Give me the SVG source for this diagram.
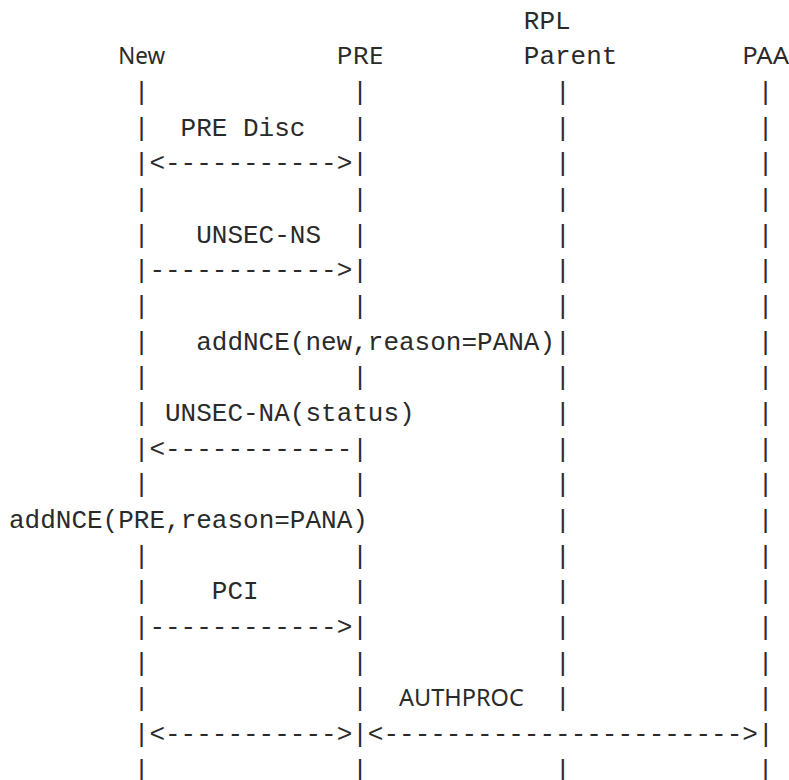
<svg xmlns="http://www.w3.org/2000/svg" width="789" height="780" viewBox="0 0 789 780">
<style>
text{fill:#2a2a2a}
.m{font-family:"Liberation Mono","DejaVu Sans Mono",monospace;font-size:26px;white-space:pre}
.s{font-family:"Noto Sans","DejaVu Sans",sans-serif;font-size:24px}
</style>
<rect width="789" height="780" fill="#ffffff"/>
<g id="node-new">
<text class="s" x="118.2" y="64.2" textLength="46.8" lengthAdjust="spacingAndGlyphs">New</text>
<text class="m"><tspan x="133.8" y="99.9">|</tspan><tspan x="133.8" y="135.5">|</tspan><tspan x="133.8" y="206.9">|</tspan><tspan x="133.8" y="242.6">|</tspan><tspan x="133.8" y="313.9">|</tspan><tspan x="133.8" y="349.6">|</tspan><tspan x="133.8" y="385.3">|</tspan><tspan x="133.8" y="421">|</tspan><tspan x="133.8" y="492.3">|</tspan><tspan x="133.8" y="563.7">|</tspan><tspan x="133.8" y="599.4">|</tspan><tspan x="133.8" y="670.7">|</tspan><tspan x="133.8" y="706.4">|</tspan><tspan x="133.8" y="777.8">|</tspan></text>
</g>
<g id="node-pre">
<text class="s" x="336.6" y="64.2" textLength="46.8" lengthAdjust="spacingAndGlyphs">PRE</text>
<text class="m"><tspan x="352.2" y="99.9">|</tspan><tspan x="352.2" y="135.5">|</tspan><tspan x="352.2" y="206.9">|</tspan><tspan x="352.2" y="242.6">|</tspan><tspan x="352.2" y="313.9">|</tspan><tspan x="352.2" y="385.3">|</tspan><tspan x="352.2" y="492.3">|</tspan><tspan x="352.2" y="563.7">|</tspan><tspan x="352.2" y="599.4">|</tspan><tspan x="352.2" y="670.7">|</tspan><tspan x="352.2" y="706.4">|</tspan><tspan x="352.2" y="777.8">|</tspan></text>
</g>
<g id="node-rpl-parent">
<text class="m" x="523.8" y="28.5">RPL</text>
<text class="m" x="523.8" y="64.2">Parent</text>
<text class="m"><tspan x="555" y="99.9">|</tspan><tspan x="555" y="135.5">|</tspan><tspan x="555" y="171.2">|</tspan><tspan x="555" y="206.9">|</tspan><tspan x="555" y="242.6">|</tspan><tspan x="555" y="278.3">|</tspan><tspan x="555" y="313.9">|</tspan><tspan x="555" y="349.6">|</tspan><tspan x="555" y="385.3">|</tspan><tspan x="555" y="421">|</tspan><tspan x="555" y="456.7">|</tspan><tspan x="555" y="492.3">|</tspan><tspan x="555" y="528">|</tspan><tspan x="555" y="563.7">|</tspan><tspan x="555" y="599.4">|</tspan><tspan x="555" y="635.1">|</tspan><tspan x="555" y="670.7">|</tspan><tspan x="555" y="706.4">|</tspan><tspan x="555" y="777.8">|</tspan></text>
</g>
<g id="node-paa">
<text class="s" x="742.2" y="64.2" textLength="46.8" lengthAdjust="spacingAndGlyphs">PAA</text>
<text class="m"><tspan x="757.8" y="99.9">|</tspan><tspan x="757.8" y="135.5">|</tspan><tspan x="757.8" y="171.2">|</tspan><tspan x="757.8" y="206.9">|</tspan><tspan x="757.8" y="242.6">|</tspan><tspan x="757.8" y="278.3">|</tspan><tspan x="757.8" y="313.9">|</tspan><tspan x="757.8" y="349.6">|</tspan><tspan x="757.8" y="385.3">|</tspan><tspan x="757.8" y="421">|</tspan><tspan x="757.8" y="456.7">|</tspan><tspan x="757.8" y="492.3">|</tspan><tspan x="757.8" y="528">|</tspan><tspan x="757.8" y="563.7">|</tspan><tspan x="757.8" y="599.4">|</tspan><tspan x="757.8" y="635.1">|</tspan><tspan x="757.8" y="670.7">|</tspan><tspan x="757.8" y="706.4">|</tspan><tspan x="757.8" y="777.8">|</tspan></text>
</g>
<g id="connectors">
<text class="m" x="180.6" y="135.5">PRE Disc</text>
<text class="m" x="133.8" y="171.2">|&lt;-----------&gt;|</text>
<text class="m" x="196.2" y="242.6">UNSEC-NS</text>
<text class="m" x="133.8" y="278.3">|------------&gt;|</text>
<text class="m" x="196.2" y="349.6">addNCE(new,reason=PANA)</text>
<text class="m" x="165" y="421">UNSEC-NA(status)</text>
<text class="m" x="133.8" y="456.7">|&lt;------------|</text>
<text class="m" x="9" y="528">addNCE(PRE,reason=PANA)</text>
<text class="m" x="211.8" y="599.4">PCI</text>
<text class="m" x="133.8" y="635.1">|------------&gt;|</text>
<text class="s" x="399" y="706.4" textLength="124.8" lengthAdjust="spacingAndGlyphs">AUTHPROC</text>
<text class="m" x="133.8" y="742.1">|&lt;-----------&gt;|&lt;-----------------------&gt;|</text>
</g>
</svg>
